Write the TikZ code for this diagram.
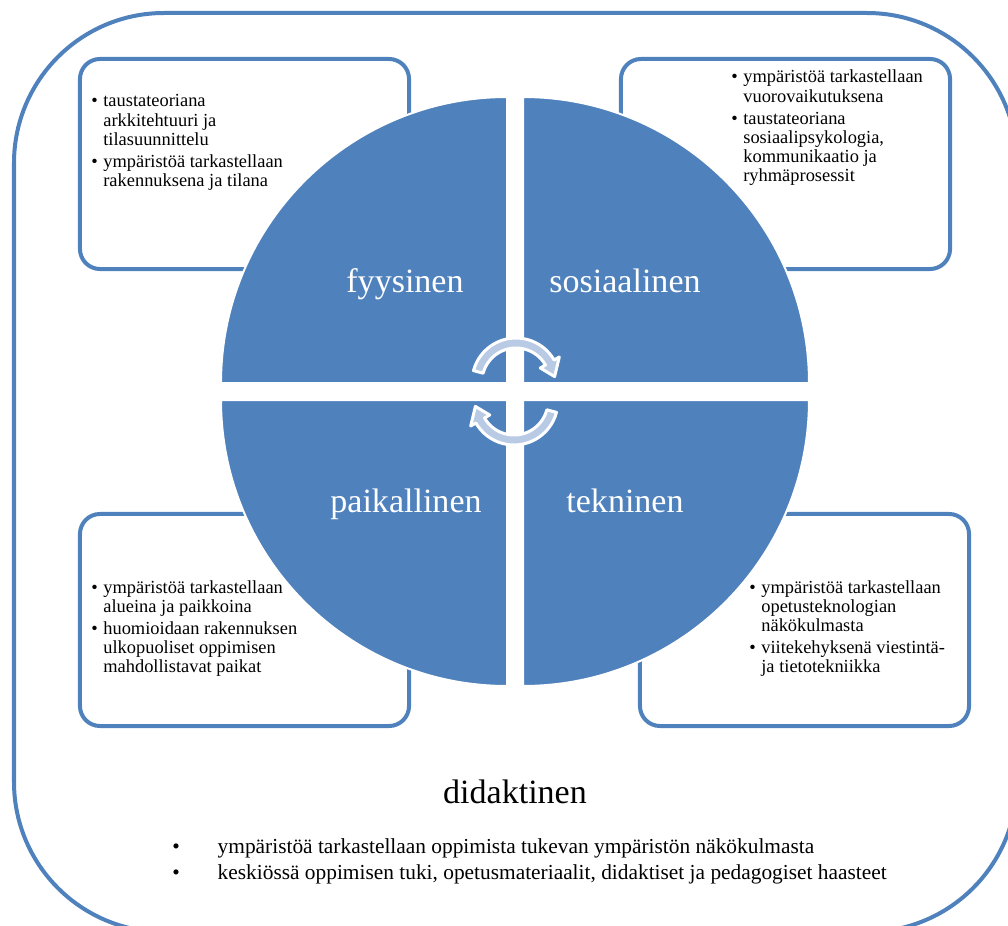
\documentclass[tikz,border=0pt]{standalone}
\usepackage{fontspec}
\setmainfont{Liberation Serif}
\usepackage{tikz}
\definecolor{ofblue}{RGB}{79,129,189}
\definecolor{ofpale}{RGB}{185,203,228}

\begin{document}
\begin{tikzpicture}[x=0.025cm,y=0.025cm,
  frame/.style={draw=ofblue,line width=0.1cm,rounded corners=3.75cm},
  infobox/.style={draw=ofblue,fill=white,line width=0.1cm,rounded corners=0.5cm,minimum width=8.225cm},
  quarter/.style={fill=ofblue,draw=white,line width=0.05cm},
  qlabel/.style={text=white,font=\fontsize{24.2}{29}\selectfont,anchor=base,inner sep=0},
  boxtext/.style={font=\fontsize{13.1}{13.65}\selectfont,anchor=base west,inner sep=0},
  cycarrow/.style={fill=ofpale,draw=white,line width=0.075cm,line join=round}]
  \useasboundingbox (0,0) rectangle (1008,-926);
  \clip (0,0) rectangle (1008,-926);
  \draw[frame] (14,-13) rectangle (1017,-932);

  \node[infobox,minimum height=5.25cm] (fysbox) at (244.5,-164) {};
  \node[infobox,minimum height=5.25cm] (sosbox) at (785.5,-164) {};
  \node[infobox,minimum height=5.3cm] (paikbox) at (244.5,-620) {};
  \node[infobox,minimum height=5.3cm] (tekbox) at (804.5,-620) {};

  \filldraw[quarter] (507,-383) -- (221,-383) arc[start angle=180,end angle=90,radius=286] -- cycle;
  \filldraw[quarter] (523,-383) -- (523,-97) arc[start angle=90,end angle=0,radius=286] -- cycle;
  \filldraw[quarter] (507,-400) -- (507,-686) arc[start angle=270,end angle=180,radius=286] -- cycle;
  \filldraw[quarter] (523,-400) -- (809,-400) arc[start angle=0,end angle=-90,radius=286] -- cycle;

  \node[qlabel] (fys) at (405,-292) {fyysinen};
  \node[qlabel] (sos) at (625,-292) {sosiaalinen};
  \node[qlabel] (paik) at (406,-512) {paikallinen};
  \node[qlabel] (tek) at (625,-512) {tekninen};

  \filldraw[cycarrow,shift={(516,-382)}] (165:44) arc[start angle=165,end angle=30,radius=44]
    -- (30:50) -- (8:39) -- (30:28) -- (30:34) arc[start angle=30,end angle=165,radius=34] -- cycle;
  \filldraw[cycarrow,shift={(514,-401)},rotate=180] (165:44) arc[start angle=165,end angle=30,radius=44]
    -- (30:50) -- (8:39) -- (30:28) -- (30:34) arc[start angle=30,end angle=165,radius=34] -- cycle;

  \node[boxtext] (fystext) at (91,-107) {\begin{tabular}[t]{@{}l@{\hspace{4pt}}l@{}}
    \textbullet & taustateoriana\\ & arkkitehtuuri ja\\ & tilasuunnittelu\\[2pt]
    \textbullet & ympäristöä tarkastellaan\\ & rakennuksena ja tilana\end{tabular}};
  \node[boxtext] (sostext) at (731,-83) {\begin{tabular}[t]{@{}l@{\hspace{4pt}}l@{}}
    \textbullet & ympäristöä tarkastellaan\\ & vuorovaikutuksena\\[2pt]
    \textbullet & taustateoriana\\ & sosiaalipsykologia,\\ & kommunikaatio ja\\ & ryhmäprosessit\end{tabular}};
  \node[boxtext] (paiktext) at (91,-593) {\begin{tabular}[t]{@{}l@{\hspace{4pt}}l@{}}
    \textbullet & ympäristöä tarkastellaan\\ & alueina ja paikkoina\\[2pt]
    \textbullet & huomioidaan rakennuksen\\ & ulkopuoliset oppimisen\\ & mahdollistavat paikat\end{tabular}};
  \node[boxtext] (tektext) at (749,-593) {\begin{tabular}[t]{@{}l@{\hspace{4pt}}l@{}}
    \textbullet & ympäristöä tarkastellaan\\ & opetusteknologian\\ & näkökulmasta\\[2pt]
    \textbullet & viitekehyksenä viestintä-\\ & ja tietotekniikka\end{tabular}};

  \node[font=\fontsize{24.2}{29}\selectfont,anchor=base,inner sep=0] (did) at (515,-803) {didaktinen};
  \node[font=\fontsize{15.2}{18.5}\selectfont,anchor=base west,inner sep=0] (didtext) at (172,-853)
    {\begin{tabular}[t]{@{}l@{\hspace{27pt}}l@{}}
    \textbullet & ympäristöä tarkastellaan oppimista tukevan ympäristön näkökulmasta\\
    \textbullet & keskiössä oppimisen tuki, opetusmateriaalit, didaktiset ja pedagogiset haasteet\end{tabular}};
\end{tikzpicture}
\end{document}
